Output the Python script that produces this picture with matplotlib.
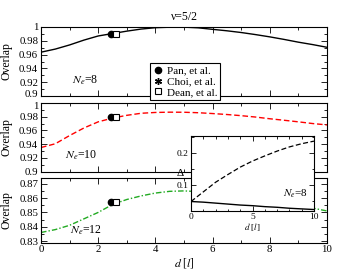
import numpy as np
import matplotlib
matplotlib.use("Agg")
import matplotlib.pyplot as plt
from matplotlib.ticker import MultipleLocator, FuncFormatter
from matplotlib.lines import Line2D
from matplotlib.transforms import ScaledTranslation

plt.rcParams['font.family'] = 'serif'
plt.rcParams['font.serif'] = ['Liberation Serif', 'DejaVu Serif']
plt.rcParams['mathtext.fontset'] = 'stix'

# ---- data ----
d = [0, 0.5, 1, 1.5, 2, 2.5, 3, 3.5, 4, 4.5, 5, 5.5, 6, 6.5, 7, 7.5, 8, 8.5, 9, 9.5, 10]
ov_ne8 = [0.9635, 0.968, 0.974, 0.981, 0.987, 0.9905, 0.994, 0.997, 0.999, 0.9997, 0.9998,
          0.9988, 0.9966, 0.9945, 0.992, 0.989, 0.9857, 0.982, 0.978, 0.9745, 0.9706]
ov_ne10 = [0.935, 0.9405, 0.9525, 0.9635, 0.9725, 0.978, 0.982, 0.985, 0.9862, 0.9866, 0.9865,
           0.9858, 0.9846, 0.9832, 0.9815, 0.9795, 0.977, 0.9748, 0.9725, 0.970, 0.968]
ov_ne12 = [0.836, 0.838, 0.841, 0.8455, 0.850, 0.8555, 0.859, 0.8615, 0.8635, 0.8647, 0.865,
           0.8645, 0.8637, 0.8626, 0.8612, 0.8597, 0.858, 0.8565, 0.8548, 0.853, 0.851]

# literature points (Pan, Choi, Dean)
ref_d = [2.45, 2.55, 2.63]
ref_labels = ['Pan, et al.', 'Choi, et al.', 'Dean, et al.']
ref_ne8 = [0.990, 0.990, 0.990]
ref_ne10 = [0.979, 0.979, 0.979]
ref_ne12 = [0.857, 0.857, 0.857]

# inset: gaps for Ne=8
inset_d = [0, 1, 2, 3, 4, 5, 6, 7, 8, 9, 10]
gap_dashed = [0.048, 0.078, 0.108, 0.132, 0.155, 0.174, 0.19, 0.205, 0.218, 0.228, 0.236]
gap_solid = [0.048, 0.046, 0.043, 0.040, 0.037, 0.035, 0.032, 0.030, 0.027, 0.025, 0.023]

W, H = 353, 273
fig = plt.figure(figsize=(W / 100, H / 100), dpi=100)

def box(x0, y0, x1, y1):
    return [x0 / W, 1 - y1 / H, (x1 - x0) / W, (y1 - y0) / H]

ax1 = fig.add_axes(box(41, 27, 327, 96))
ax2 = fig.add_axes(box(41, 103, 327, 171.5))
ax3 = fig.add_axes(box(41, 178, 327, 242.5))
axi = fig.add_axes(box(191, 136, 314, 210.5))

fmt = FuncFormatter(lambda v, p: '%g' % round(v, 4))
FS = 7.8

def style(ax, ymaj, ymin, labx):
    ax.set_xlim(0, 10)
    ax.xaxis.set_major_locator(MultipleLocator(2))
    ax.xaxis.set_minor_locator(MultipleLocator(1))
    ax.yaxis.set_major_locator(MultipleLocator(ymaj))
    ax.yaxis.set_minor_locator(MultipleLocator(ymin))
    ax.yaxis.set_major_formatter(fmt)
    ax.tick_params(which='both', direction='in', top=True, right=True, labelsize=FS, pad=2)
    ax.tick_params(which='major', length=4, width=0.6)
    ax.tick_params(which='minor', length=2, width=0.6)
    if not labx:
        ax.tick_params(labelbottom=False)
    for s in ax.spines.values():
        s.set_linewidth(0.8)
    ax.set_ylabel('Overlap', fontsize=8.5, labelpad=2)
    ax.yaxis.set_label_coords(-0.098, 0.5)

def refs(ax, vals):
    ax.plot(ref_d[0], vals[0], 'o', color='black', ms=4.5, zorder=5)
    ax.plot(ref_d[1], vals[1], marker=(6, 2, 0), color='black', ms=5, mew=1, zorder=5)
    ax.plot(ref_d[2], vals[2], 's', mfc='white', mec='black', ms=4, mew=0.8, zorder=6)

ax1.plot(d, ov_ne8, color='black', lw=1)
refs(ax1, ref_ne8)
ax1.set_ylim(0.9, 1.0)
style(ax1, 0.02, 0.01, False)
ax1.text(1.1, 0.923, r'$N_e$=8', fontsize=8.5, va='center')
ax1.set_title('\u03bd=5/2', fontsize=8.5, pad=5)

ax2.plot(d, ov_ne10, color='red', lw=1, dashes=(4, 2))
refs(ax2, ref_ne10)
ax2.set_ylim(0.9, 1.0)
style(ax2, 0.02, 0.01, False)
ax2.text(0.85, 0.924, r'$N_e$=10', fontsize=8.5, va='center')

ax3.plot(d, ov_ne12, color='#22aa22', lw=1, dashes=(4, 1.5, 1, 1.5))
refs(ax3, ref_ne12)
ax3.set_ylim(0.829, 0.874)
style(ax3, 0.01, 0.005, True)
ax3.text(1.0, 0.8374, r'$N_e$=12', fontsize=8.5, va='center')
ax3.set_xlabel(r'$d$ [$l$]', fontsize=8.5, labelpad=1)

handles = [
    Line2D([], [], ls='none', marker='o', color='black', ms=4.5),
    Line2D([], [], ls='none', marker=(6, 2, 0), color='black', ms=5, mew=1),
    Line2D([], [], ls='none', marker='s', mfc='white', mec='black', ms=4, mew=0.8),
]
leg = ax1.legend(handles, ref_labels, loc='upper left', bbox_to_anchor=(150 / W, 1 - 63 / H),
                 bbox_transform=fig.transFigure, fontsize=8, frameon=True, fancybox=False,
                 borderpad=0.25, labelspacing=0.1, handletextpad=0.3, handlelength=1.0,
                 borderaxespad=0, framealpha=1)
leg.get_frame().set_edgecolor('black')
leg.get_frame().set_linewidth(0.8)
leg.set_zorder(20)

axi.plot(inset_d, gap_dashed, color='black', lw=0.9, dashes=(4, 2))
axi.plot(inset_d, gap_solid, color='black', lw=1)
axi.set_xlim(0, 10)
axi.set_ylim(0.02, 0.252)
axi.xaxis.set_major_locator(MultipleLocator(5))
axi.xaxis.set_minor_locator(MultipleLocator(1))
axi.yaxis.set_major_locator(MultipleLocator(0.1))
axi.yaxis.set_minor_locator(MultipleLocator(0.05))
axi.yaxis.set_major_formatter(fmt)
axi.tick_params(which='both', direction='in', top=True, right=True, labelsize=6.8, pad=1.5)
axi.tick_params(which='major', length=3.5, width=0.6)
axi.tick_params(which='minor', length=1.8, width=0.6)
for s in axi.spines.values():
    s.set_linewidth(0.8)
axi.set_ylabel('\u0394', fontsize=8, rotation=0, va='center', ha='center')
axi.yaxis.set_label_coords(-0.09, 0.5)
axi.set_xlabel(r'$d$ [$l$]', fontsize=6.5, labelpad=0.5)
axi.text(7.5, 0.072, r'$N_e$=8', fontsize=8, va='center')
axi.set_zorder(10)

# nudge the touching tick labels between panels 1 and 2 apart slightly
fig.canvas.draw()
for lab in ax1.get_yticklabels():
    if lab.get_text() == '0.9':
        lab.set_transform(lab.get_transform() + ScaledTranslation(0, 1.5 / 72, fig.dpi_scale_trans))
for lab in ax2.get_yticklabels():
    if lab.get_text() == '1':
        lab.set_transform(lab.get_transform() + ScaledTranslation(0, -1.5 / 72, fig.dpi_scale_trans))

fig.savefig('out.png', dpi=100)
